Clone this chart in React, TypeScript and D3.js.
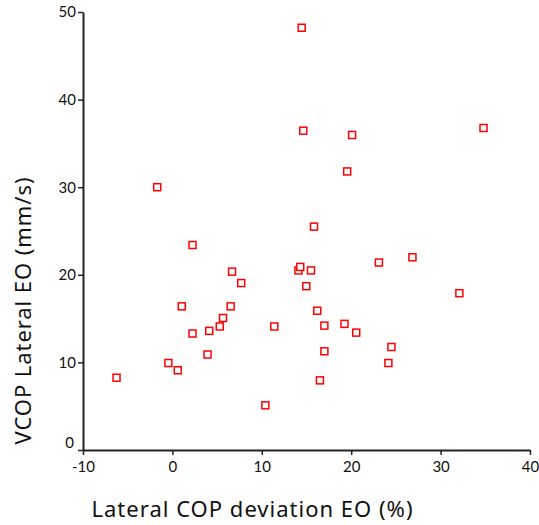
import React, { useEffect, useRef } from "react";
import * as d3 from "d3";

const xValues = [-6.25, -1.7, -0.45, 0.6, 1.05, 2.25, 2.25, 3.93, 4.12, 5.3, 5.66, 6.52, 6.67, 7.7, 10.4, 11.4, 14.1, 14.3, 15.5, 14.98, 16.2, 17.0, 17.0, 16.5, 19.25, 20.56, 23.1, 24.5, 24.16, 32.1, 26.85, 34.8, 14.46, 14.64, 20.1, 19.55, 15.84];
const yValues = [8.25, 30.0, 9.93, 9.1, 16.4, 13.3, 23.4, 10.9, 13.6, 14.1, 15.07, 16.4, 20.36, 19.06, 5.1, 14.1, 20.5, 20.9, 20.5, 18.7, 15.9, 14.2, 11.27, 7.95, 14.4, 13.4, 21.4, 11.76, 9.93, 17.9, 22.0, 36.76, 48.2, 36.45, 35.96, 31.8, 25.5];
const xTicks = [-10, 0, 10, 20, 30, 40];
const yTicks = [0, 10, 20, 30, 40, 50];
const xTitle = "Lateral COP deviation EO (%)";
const yTitle = "VCOP Lateral EO (mm/s)";

const W = 539, H = 525;
const FONT = "Lato, 'Noto Sans', sans-serif";
const TITLE_FONT = "'Noto Sans', sans-serif";

export default function App() {
  const ref = useRef<SVGSVGElement>(null);
  useEffect(() => {
    const svg = d3.select(ref.current);
    svg.selectAll("*").remove();
    const x = d3.scaleLinear().domain([-10, 40]).range([83, 530]);
    const y = d3.scaleLinear().domain([0, 50]).range([450, 12]);
    const axisColor = "#222";

    const gx = svg.append("g").attr("transform", `translate(0,${y(0)})`)
      .call(d3.axisBottom(x).tickValues(xTicks).tickSize(5).tickSizeOuter(0).tickFormat(d3.format("d")));
    gx.select(".domain").attr("stroke", axisColor).attr("stroke-width", 2);
    gx.selectAll(".tick line").attr("stroke", axisColor).attr("stroke-width", 1.5);
    gx.selectAll(".tick text").attr("font-family", FONT).attr("font-size", 15).attr("fill", "#111").attr("dy", "0.95em")
      .text((d: any) => (d < 0 ? "-" + Math.abs(d) : String(d)));

    const gy = svg.append("g").attr("transform", `translate(${x(-10)},0)`)
      .call(d3.axisLeft(y).tickValues(yTicks).tickSize(5).tickSizeOuter(0).tickFormat(d3.format("d")));
    gy.select(".domain").attr("stroke", axisColor).attr("stroke-width", 2);
    gy.selectAll(".tick line").attr("stroke", axisColor).attr("stroke-width", 1.5);
    gy.selectAll(".tick text").attr("font-family", FONT).attr("font-size", 15).attr("fill", "#111")
      .attr("x", (d: any) => (d === 0 ? -9 : -7))
      .attr("dy", (d: any) => (d === 0 ? "-0.2em" : "0.32em"));

    const pts = xValues.map((v, i) => [v, yValues[i]]);
    const s = 7;
    svg.append("g").selectAll("rect").data(pts).join("rect")
      .attr("x", (d) => x(d[0]) - s / 2)
      .attr("y", (d) => y(d[1]) - s / 2)
      .attr("width", s).attr("height", s)
      .attr("fill", "white").attr("stroke", "#ff0000").attr("stroke-width", 1.5);

    svg.append("text").attr("x", 252).attr("y", 517)
      .attr("text-anchor", "middle").attr("font-family", TITLE_FONT).attr("font-size", 22).attr("fill", "#111")
      .attr("textLength", 321).attr("lengthAdjust", "spacing")
      .text(xTitle);
    svg.append("text").attr("transform", `translate(31,${311}) rotate(-90)`)
      .attr("text-anchor", "middle").attr("font-family", TITLE_FONT).attr("font-size", 22).attr("fill", "#111")
      .attr("textLength", 267).attr("lengthAdjust", "spacing")
      .text(yTitle);
  }, []);
  return (
    <svg ref={ref} width={W} height={H} style={{ position: "absolute", left: 0, top: 0, background: "white" }} />
  );
}
